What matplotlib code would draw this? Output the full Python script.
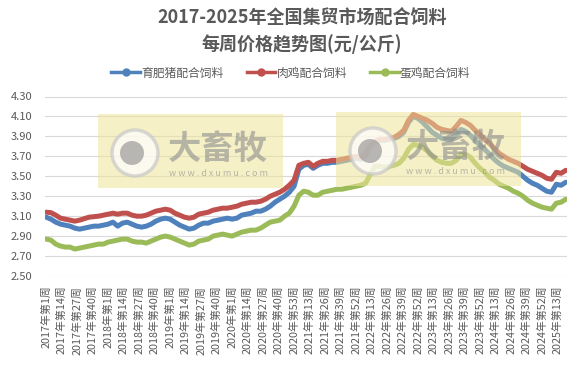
import numpy as np
import matplotlib
matplotlib.use("Agg")
import matplotlib.pyplot as plt
from matplotlib.patches import Rectangle, Circle
from matplotlib.lines import Line2D

plt.rcParams['font.family'] = ['Noto Sans CJK SC', 'DejaVu Sans']

# semanas por año (categorías del eje x)
years_weeks = [(2017, 52), (2018, 52), (2019, 52), (2020, 53), (2021, 52),
               (2022, 52), (2023, 52), (2024, 52), (2025, 20)]
categories = [f"{y}年第{w}周" for y, n in years_weeks for w in range(1, n + 1)]

# valores leídos cada 4 semanas (元/公斤)
pig = [3.09, 3.07, 3.04, 3.02, 3.01, 3.00, 2.98, 2.97, 2.98, 2.99,
       3.00, 3.00, 3.01, 3.02, 3.04, 3.00, 3.03, 3.04, 3.02, 3.00,
       2.99, 3.00, 3.02, 3.05, 3.07, 3.08, 3.07, 3.04, 3.01, 2.99,
       2.97, 2.98, 3.01, 3.03, 3.03, 3.05, 3.06, 3.07, 3.08, 3.07,
       3.08, 3.11, 3.12, 3.13, 3.15, 3.15, 3.17, 3.20, 3.24, 3.27,
       3.30, 3.34, 3.40, 3.57, 3.61, 3.62, 3.58, 3.61, 3.63, 3.63,
       3.64, 3.64, 3.65, 3.66, 3.67, 3.68, 3.67, 3.70, 3.80, 3.84,
       3.86, 3.86, 3.87, 3.88, 3.90, 3.94, 4.04, 4.10, 4.08, 4.04,
       3.99, 3.94, 3.91, 3.88, 3.87, 3.87, 3.92, 3.97, 3.95, 3.91,
       3.86, 3.81, 3.77, 3.72, 3.67, 3.63, 3.60, 3.58, 3.56, 3.54,
       3.50, 3.46, 3.43, 3.41, 3.38, 3.35, 3.34, 3.42, 3.41, 3.44]

broiler = [3.14, 3.135, 3.11, 3.08, 3.07, 3.06, 3.05, 3.06, 3.075, 3.09,
           3.095, 3.10, 3.11, 3.12, 3.13, 3.12, 3.13, 3.13, 3.11, 3.10,
           3.10, 3.11, 3.13, 3.15, 3.16, 3.17, 3.16, 3.13, 3.11, 3.09,
           3.08, 3.09, 3.12, 3.13, 3.14, 3.16, 3.17, 3.18, 3.18, 3.19,
           3.20, 3.22, 3.23, 3.24, 3.24, 3.25, 3.27, 3.30, 3.32, 3.34,
           3.37, 3.41, 3.46, 3.61, 3.63, 3.64, 3.60, 3.63, 3.65, 3.65,
           3.66, 3.66, 3.67, 3.68, 3.69, 3.70, 3.69, 3.72, 3.81, 3.85,
           3.87, 3.87, 3.88, 3.89, 3.92, 3.96, 4.06, 4.12, 4.10, 4.08,
           4.06, 4.03, 3.99, 3.97, 3.96, 3.95, 4.00, 4.06, 4.04, 4.01,
           3.96, 3.92, 3.87, 3.83, 3.78, 3.73, 3.70, 3.67, 3.65, 3.63,
           3.60, 3.57, 3.55, 3.53, 3.51, 3.48, 3.47, 3.54, 3.53, 3.56]

layer = [2.87, 2.86, 2.82, 2.80, 2.79, 2.79, 2.77, 2.78, 2.79, 2.80,
         2.81, 2.82, 2.82, 2.84, 2.85, 2.86, 2.87, 2.87, 2.85, 2.84,
         2.84, 2.83, 2.85, 2.87, 2.89, 2.90, 2.89, 2.87, 2.85, 2.83,
         2.81, 2.82, 2.85, 2.86, 2.87, 2.90, 2.91, 2.92, 2.91, 2.90,
         2.92, 2.94, 2.95, 2.96, 2.96, 2.98, 3.01, 3.04, 3.05, 3.06,
         3.10, 3.13, 3.20, 3.31, 3.35, 3.34, 3.31, 3.31, 3.34, 3.35,
         3.36, 3.37, 3.37, 3.38, 3.39, 3.40, 3.41, 3.43, 3.52, 3.60,
         3.60, 3.59, 3.60, 3.61, 3.63, 3.68, 3.77, 3.82, 3.81, 3.79,
         3.75, 3.70, 3.66, 3.64, 3.63, 3.63, 3.66, 3.72, 3.72, 3.69,
         3.63, 3.58, 3.54, 3.49, 3.46, 3.42, 3.40, 3.38, 3.35, 3.33,
         3.30, 3.26, 3.23, 3.21, 3.19, 3.18, 3.17, 3.23, 3.24, 3.27]

series_names = ['育肥猪配合饲料', '肉鸡配合饲料', '蛋鸡配合饲料']
colors = ['#4f81bd', '#c0504d', '#9bbb59']

sample_idx = np.arange(0, len(categories), 4)
yticks = np.arange(2.50, 4.31, 0.20)
tick_pos = list(range(0, len(categories), 13))

W, H = 582, 366
fig = plt.figure(figsize=(W / 100, H / 100), dpi=100)
ax = fig.add_axes([45 / W, 1 - 276 / H, (567 - 45) / W, (276 - 96.5) / H])

for vals, name, c in zip([pig, broiler, layer], series_names, colors):
    ax.plot(sample_idx, vals, color=c, lw=3.6, solid_capstyle='round',
            solid_joinstyle='round', label=name)

ax.set_ylim(2.50, 4.30)
ax.set_xlim(-1, len(categories))
ax.set_yticks(yticks)
ax.set_yticklabels([f"{v:.2f}" for v in yticks])
ax.set_xticks(tick_pos)
ax.set_xticklabels([categories[i] for i in tick_pos], rotation=90)
ax.tick_params(axis='x', length=0, pad=7, labelsize=7.8, colors='#595959')
ax.tick_params(axis='y', length=0, pad=9, labelsize=8, colors='#595959')
ax.grid(axis='y', color='#d9d9d9', lw=0.8)
ax.set_axisbelow(True)
for s in ax.spines.values():
    s.set_visible(False)

# título
fig.text(302 / W, 1 - 18 / H, '2017-2025年全国集贸市场配合饲料', ha='center', va='center',
         fontsize=13, fontweight='bold', color='#595959')
fig.text(302 / W, 1 - 44 / H, '每周价格趋势图(元/公斤)', ha='center', va='center',
         fontsize=13, fontweight='bold', color='#595959')

# leyenda
handles = [Line2D([], [], color=c, lw=2.5, marker='o', markersize=5) for c in colors]
fig.legend(handles, series_names, loc='center', bbox_to_anchor=(0.5, 1 - 73 / H), ncol=3,
           frameon=False, fontsize=8.5, handlelength=2.4, handletextpad=0.1,
           columnspacing=2.0, labelcolor='#595959')

# marca de agua (encima de las líneas)
tr = fig.dpi_scale_trans
def px(x, y):
    return (x / 100, (H - y) / 100)

for ox, oy in [(98, 114), (336, 112)]:
    fig.add_artist(Rectangle(px(ox, oy + 74), 1.85, 0.74, transform=tr,
                             facecolor='#efe49a', alpha=0.55, edgecolor='none'))
    fig.add_artist(Circle(px(ox + 37, oy + 39), 0.23, transform=tr,
                          facecolor='#ffffff', edgecolor='#c8c8c8', lw=2.5, alpha=0.7))
    fig.add_artist(Circle(px(ox + 34, oy + 39), 0.12, transform=tr,
                          facecolor='#9a9a9a', edgecolor='none', alpha=0.7))
    fig.text(*px(ox + 120, oy + 35), '大畜牧', transform=tr, ha='center', va='center',
             fontsize=24, fontweight='bold', color='#8c8c8c', alpha=0.6)
    fig.text(*px(ox + 120, oy + 60), 'w w w . d x u m u . c o m', transform=tr,
             ha='center', va='center', fontsize=6.5, color='#8c8c8c', alpha=0.6)

fig.savefig('out.png', dpi=100)
